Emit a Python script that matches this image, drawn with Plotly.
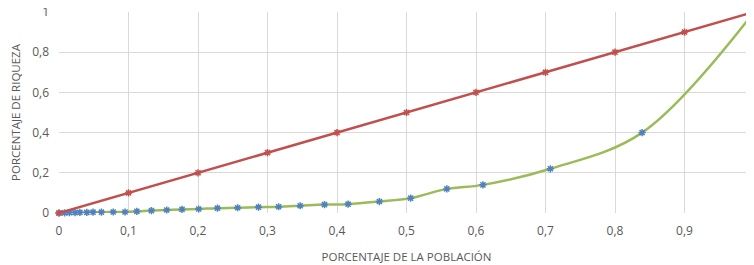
import plotly.graph_objects as go

# Equality line
eq_x = [0, 0.1, 0.2, 0.3, 0.4, 0.5, 0.6, 0.7, 0.8, 0.9, 1.0]
eq_y = [0, 0.1, 0.2, 0.3, 0.4, 0.5, 0.6, 0.7, 0.8, 0.9, 1.0]

# Lorenz curve
lz_x = [0, 0.008, 0.015, 0.023, 0.03, 0.04, 0.049, 0.061, 0.078, 0.095, 0.112,
        0.133, 0.155, 0.177, 0.201, 0.228, 0.257, 0.287, 0.316, 0.347, 0.382,
        0.416, 0.461, 0.506, 0.558, 0.61, 0.707, 0.839, 1.0]
lz_y = [0, 0.001, 0.002, 0.002, 0.003, 0.003, 0.004, 0.004, 0.005, 0.005, 0.008,
        0.012, 0.015, 0.018, 0.02, 0.024, 0.026, 0.029, 0.031, 0.036, 0.042,
        0.044, 0.057, 0.074, 0.12, 0.14, 0.22, 0.4, 1.0]

x_ticks = [0, 0.1, 0.2, 0.3, 0.4, 0.5, 0.6, 0.7, 0.8, 0.9, 1]
x_labels = ["0", "0,1", "0,2", "0,3", "0,4", "0,5", "0,6", "0,7", "0,8", "0,9", "1"]
y_ticks = [0, 0.2, 0.4, 0.6, 0.8, 1]
y_labels = ["0", "0,2", "0,4", "0,6", "0,8", "1"]

FONT = "Open Sans"
GREY = "#595959"

fig = go.Figure()
fig.add_trace(go.Scatter(
    x=lz_x, y=lz_y, mode="lines+markers",
    line=dict(color="#9BBB59", width=2.5, shape="spline", smoothing=1),
    marker=dict(symbol="asterisk-open", size=6, color="#4F81BD",
                line=dict(color="#4F81BD", width=1.5)),
    cliponaxis=False, showlegend=False,
))
fig.add_trace(go.Scatter(
    x=eq_x, y=eq_y, mode="lines+markers",
    line=dict(color="#C0504D", width=2.5),
    marker=dict(symbol="asterisk-open", size=6, color="#C0504D",
                line=dict(color="#C0504D", width=1.5)),
    cliponaxis=False, showlegend=False,
))

fig.update_layout(
    width=746, height=257,
    margin=dict(l=51, r=0, t=4, b=52, autoexpand=False),
    paper_bgcolor="white", plot_bgcolor="white",
    font=dict(family=FONT, color=GREY, size=12),
    xaxis=dict(
        range=[0, 1], tickvals=x_ticks, ticktext=x_labels, automargin=False,
        showgrid=True, gridcolor="#D9D9D9", gridwidth=1,
        zeroline=False, showline=False, ticks="", ticklabelstandoff=9,
        ticklabeloverflow="allow",
        tickfont=dict(size=12, color=GREY),
        title=dict(text="PORCENTAJE DE LA POBLACIÓN", font=dict(size=11.5, color=GREY), standoff=14),
    ),
    yaxis=dict(
        range=[0, 1], tickvals=y_ticks, ticktext=y_labels, automargin=False,
        showgrid=True, gridcolor="#D9D9D9", gridwidth=1,
        zeroline=False, showline=False, ticks="", ticklabelstandoff=9,
        ticklabeloverflow="allow",
        tickfont=dict(size=12, color=GREY),
        title=dict(text="PORCENTAJE DE RIQUEZA", font=dict(size=11.5, color=GREY), standoff=12),
    ),
)

fig.write_html("out.html")
